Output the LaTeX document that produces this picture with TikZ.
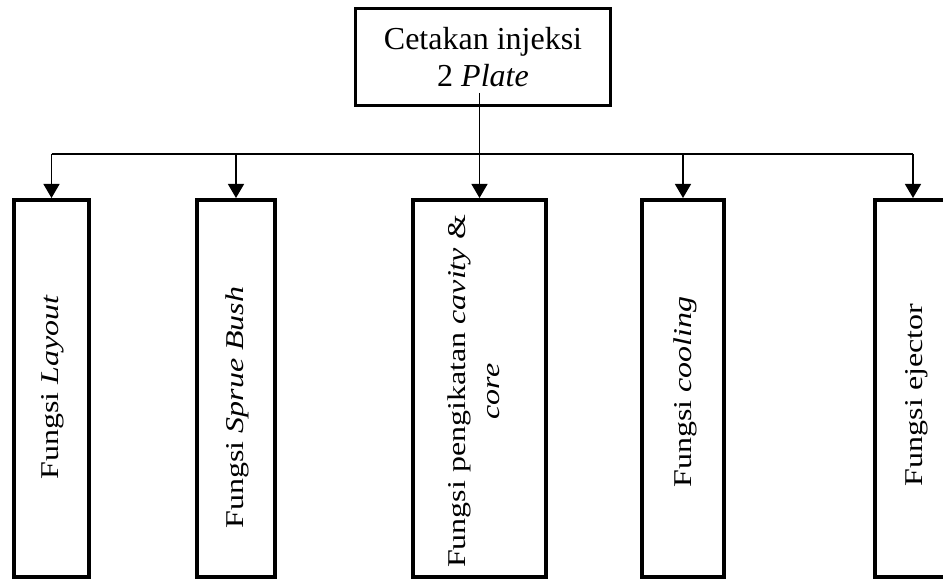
\documentclass[tikz,border=0pt]{standalone}
\usepackage{fontspec}
\setmainfont{Liberation Serif}
\usetikzlibrary{arrows.meta}
\begin{document}
\begin{tikzpicture}[x=1pt,y=1pt,
  box/.style={draw, line width=4pt, minimum height=377pt, inner sep=0pt},
  topbox/.style={draw, line width=3pt, minimum width=255pt, minimum height=97pt, inner sep=0pt},
  lbl/.style={font=\fontsize{32}{37}\selectfont, inner sep=0pt, align=center},
  vlbl/.style={lbl, font=\fontsize{32}{43}\selectfont, rotate=90, yscale=0.8},
  conn/.style={line width=1.3pt},
  arr/.style={conn, -{Triangle[width=16pt,length=14pt]}}]
\useasboundingbox (0,0) rectangle (943,581);
\fill[white] (0,0) rectangle (943,581);
% top box
\node[topbox] (top) at (483,524) {};
\node[lbl] (ttop) at (483,524) {Cetakan injeksi\\2 \textit{Plate}};
% bottom boxes
\node[box, minimum width=75pt] (B1) at (51.5,192.5) {};
\node[box, minimum width=78pt] (B2) at (236,192.5) {};
\node[box, minimum width=133pt] (B3) at (479.5,192.5) {};
\node[box, minimum width=82pt] (B4) at (683,192.5) {};
\node[box, minimum width=76pt] (B5) at (913,192.5) {};
% labels
\node[vlbl] (t1) at (52.5,194) {Fungsi \textit{Layout}};
\node[vlbl] (t2) at (237.5,173.5) {Fungsi \textit{Sprue Bush}};
\node[vlbl] (t3) at (474,189.5) {Fungsi pengikatan \textit{cavity} \&\\\textit{core}};
\node[vlbl] (t4) at (685,189) {Fungsi \textit{cooling}};
\node[vlbl] (t5) at (916.5,186) {Fungsi ejector};
% connectors
\coordinate (bus) at (0,427);
\coordinate (topout) at ([yshift=14pt]top.south);
\draw[conn] (B1.north |- bus) -- (B5.north |- bus);
\draw[arr] (B3.north |- topout) -- (B3.north);
\draw[arr] (B1.north |- bus) -- (B1.north);
\draw[arr] (B2.north |- bus) -- (B2.north);
\draw[arr] (B4.north |- bus) -- (B4.north);
\draw[arr] (B5.north |- bus) -- (B5.north);
\end{tikzpicture}
\end{document}
